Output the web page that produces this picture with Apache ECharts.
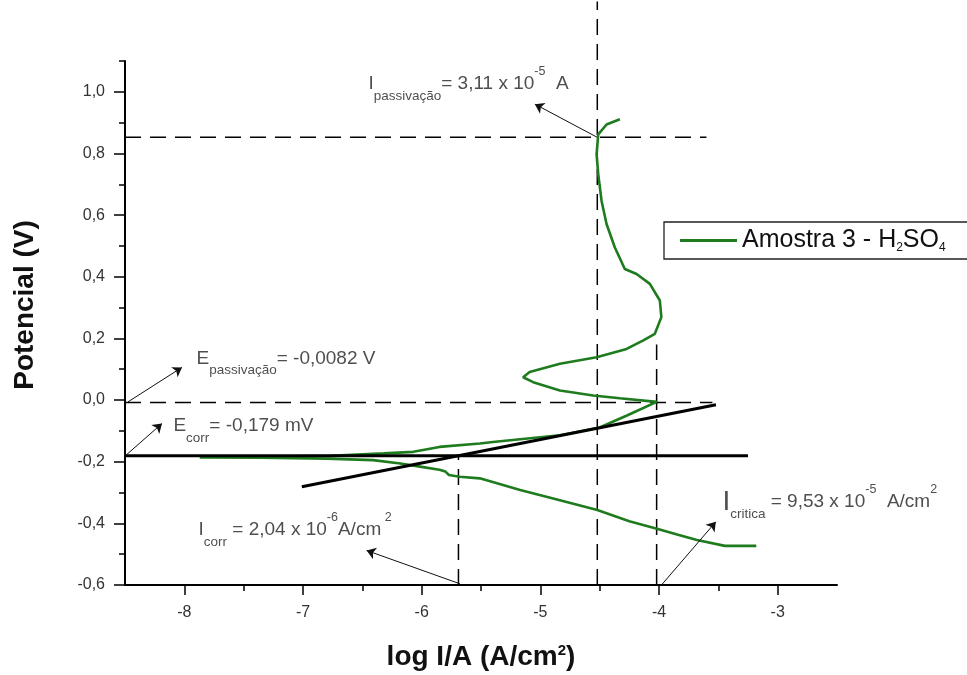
<!DOCTYPE html>
<html>
<head>
<meta charset="utf-8">
<script src="https://cdn.jsdelivr.net/npm/echarts@6/dist/echarts.min.js"></script>
<style>
html,body{margin:0;padding:0;background:#fff;}
#chart{width:967px;height:675px;}
</style>
</head>
<body>
<div id="chart"></div>
<script>
// ---------- data ----------
const seriesName = 'Amostra 3 - H2SO4';
// polarization curve: log I/A (A/cm2) and potential (V)
const curveLogI = [
  -3.18, -3.445, -3.68, -3.84, -4.01, -4.25, -4.52, -4.835, -5.17, -5.51, -5.68, -5.77, -5.80, -5.85, -6.015, -6.18, -6.41, -6.80, -7.36, -7.87,
  -7.36, -6.77, -6.32, -6.07, -5.85, -5.51, -5.40, -4.835, -4.50, -4.27, -4.02,
  -4.33, -4.555, -4.835, -5.06, -5.145, -5.09, -4.835, -4.526, -4.273, -4.136, -4.035, -3.98, -3.993, -4.077, -4.189, -4.288, -4.372, -4.442, -4.484, -4.512, -4.526, -4.512, -4.442, -4.33
];
const curveE = [
  -0.473, -0.473, -0.454, -0.437, -0.418, -0.393, -0.357, -0.325, -0.292, -0.254, -0.249, -0.243, -0.232, -0.226, -0.216, -0.206, -0.195, -0.190, -0.187, -0.186,
  -0.184, -0.181, -0.173, -0.168, -0.152, -0.141, -0.136, -0.114, -0.089, -0.050, -0.006,
  0.006, 0.015, 0.031, 0.058, 0.074, 0.091, 0.118, 0.139, 0.166, 0.193, 0.215, 0.269, 0.323, 0.377, 0.409, 0.425, 0.495, 0.571, 0.646, 0.733, 0.797, 0.862, 0.894, 0.911
];
// dashed guide lines [x1, y1, x2, y2]
const dashedLines = [
  [-8.5, 0.853, -3.6, 0.853],
  [-8.5, -0.0082, -3.55, -0.0082],
  [-4.52, -0.6, -4.52, 1.293],
  [-4.02, -0.6, -4.02, 0.18],
  [-5.69, -0.6, -5.69, -0.181]
];
// solid black lines [x1, y1, x2, y2]
const solidLines = [
  [-8.5, -0.181, -3.25, -0.181],
  [-7.01, -0.281, -3.52, -0.015]
];
// annotation arrows [xFrom, yFrom, xTo, yTo]
const arrows = [
  [-4.523, 0.853, -5.046, 0.960],
  [-8.475, -0.006, -8.02, 0.106],
  [-8.492, -0.179, -8.188, -0.076],
  [-5.678, -0.596, -6.464, -0.488],
  [-3.979, -0.600, -3.521, -0.395]
];
// annotation texts and their anchor points (x, y)
const noteAnchorX = [-6.453, -7.902, -8.096, -7.885, -3.47];
const noteAnchorY = [1.025, 0.135, -0.085, -0.422, -0.331];
const noteTexts = [
  '{m|I}{sub|passivação}{m|= 3,11 x 10}{sup|-5}{m|  A}',
  '{m|E}{sub|passivação}{m|= -0,0082 V}',
  '{m|E}{sub|corr}{m|= -0,179 mV}',
  '{m|I}{sub|corr}{m| = 2,04 x 10}{sup|-6}{m|A/cm}{sup| 2}',
  '{big|I}{sub|critica}{m| = 9,53 x 10}{sup|-5}{m|  A/cm}{sup|2}'
];
const xTicks = [-8, -7, -6, -5, -4, -3];
const xMinorTicks = [-7.5, -6.5, -5.5, -4.5, -3.5];
const yTicks = [-0.6, -0.4, -0.2, 0.0, 0.2, 0.4, 0.6, 0.8, 1.0];
const yMinorTicks = [-0.5, -0.3, -0.1, 0.1, 0.3, 0.5, 0.7, 0.9, 1.1];

// ---------- chart ----------
const FONT = "'Liberation Sans', Arial, sans-serif";
const GREEN = '#1e7b1e';
const chart = echarts.init(document.getElementById('chart'), null, {renderer: 'canvas'});

const richNote = {
  m: {fontSize: 19, color: '#222', fontFamily: FONT, lineHeight: 38},
  big: {fontSize: 28, color: '#222', fontFamily: FONT, lineHeight: 38},
  sub: {fontSize: 13.5, color: '#222', fontFamily: FONT, verticalAlign: 'bottom', lineHeight: 12},
  sup: {fontSize: 12.5, color: '#222', fontFamily: FONT, verticalAlign: 'top', lineHeight: 12}
};

const series = [];
dashedLines.forEach((l) => {
  series.push({
    type: 'line', silent: true, symbol: 'none', clip: false, animation: false,
    data: [[l[0], l[1]], [l[2], l[3]]],
    lineStyle: {color: '#000', width: 1.5, type: [16, 9]},
    z: 2
  });
});
solidLines.forEach((l) => {
  series.push({
    type: 'line', silent: true, symbol: 'none', animation: false,
    data: [[l[0], l[1]], [l[2], l[3]]],
    lineStyle: {color: '#000', width: 3},
    z: 4
  });
});
series.push({
  name: seriesName,
  type: 'line', symbol: 'none', silent: true, animation: false,
  data: curveLogI.map((x, i) => [x, curveE[i]]),
  lineStyle: {color: GREEN, width: 2.6},
  itemStyle: {color: GREEN},
  z: 3
});
series.push({
  type: 'line', silent: true, symbol: 'none', data: [], animation: false,
  markLine: {
    silent: true, animation: false,
    symbol: ['none', 'arrow'], symbolSize: 9,
    label: {show: false},
    lineStyle: {color: '#111', width: 1, type: 'solid'},
    emphasis: {disabled: true},
    data: arrows.map(a => [{coord: [a[0], a[1]]}, {coord: [a[2], a[3]]}])
  }
});
noteTexts.forEach((t, i) => {
  series.push({
    type: 'scatter', silent: true, animation: false,
    symbolSize: 1, itemStyle: {color: 'rgba(0,0,0,0)'},
    data: [[noteAnchorX[i], noteAnchorY[i]]],
    label: {show: true, position: 'right', distance: 0, formatter: t, rich: richNote},
    z: 6
  });
});

const tickLine = {color: '#000', width: 1.5};
const option = {
  animation: false,
  backgroundColor: '#fff',
  grid: {left: 125, right: 130, top: 61, bottom: 90, containLabel: false, outerBoundsMode: 'none'},
  legend: {
    data: [seriesName],
    left: 664, top: 222,
    icon: 'rect',
    itemWidth: 57, itemHeight: 3,
    padding: [5, 60, 5, 16],
    borderColor: '#222', borderWidth: 1.3, borderRadius: 0,
    formatter: () => 'Amostra 3 - H{s|2}SO{s|4}',
    textStyle: {
      fontSize: 25, color: '#111', fontFamily: FONT, lineHeight: 27,
      rich: {s: {fontSize: 12, color: '#111', fontFamily: FONT, verticalAlign: 'bottom', lineHeight: 11}}
    }
  },
  xAxis: [{
    type: 'value', min: -8.5, max: -2.5, position: 'bottom',
    axisLine: {onZero: false, lineStyle: {color: '#000', width: 2}},
    axisTick: {customValues: xTicks, length: 10, lineStyle: tickLine},
    axisLabel: {customValues: xTicks, margin: 20, fontSize: 16, color: '#333', fontFamily: FONT,
      formatter: v => String(Math.round(v))},
    splitLine: {show: false},
    name: 'log I/A (A/cm{sup|2})', nameLocation: 'middle', nameGap: 58,
    nameTextStyle: {fontSize: 28, fontWeight: 'bold', color: '#111', fontFamily: FONT,
      rich: {sup: {fontSize: 15, fontWeight: 'bold', color: '#111', fontFamily: FONT, verticalAlign: 'top', lineHeight: 14}}}
  }, {
    type: 'value', min: -8.5, max: -2.5, position: 'bottom',
    axisLine: {show: false, onZero: false},
    axisTick: {customValues: xMinorTicks, length: 6, lineStyle: tickLine},
    axisLabel: {show: false}, splitLine: {show: false}
  }],
  yAxis: [{
    type: 'value', min: -0.6, max: 1.1, position: 'left',
    axisLine: {onZero: false, lineStyle: {color: '#000', width: 2}},
    axisTick: {customValues: yTicks, length: 11, lineStyle: tickLine},
    axisLabel: {customValues: yTicks, margin: 20, fontSize: 16, color: '#333', fontFamily: FONT,
      formatter: v => v.toFixed(1).replace('.', ',')},
    splitLine: {show: false},
    name: 'Potencial (V)', nameLocation: 'middle', nameGap: 86, nameRotate: 90,
    nameTextStyle: {fontSize: 28, fontWeight: 'bold', color: '#111', fontFamily: FONT, padding: [0, 0, 0, 36]}
  }, {
    type: 'value', min: -0.6, max: 1.1, position: 'left',
    axisLine: {show: false, onZero: false},
    axisTick: {customValues: yMinorTicks, length: 6, lineStyle: tickLine},
    axisLabel: {show: false}, splitLine: {show: false}
  }],
  series: series
};
chart.setOption(option);
</script>
</body>
</html>
